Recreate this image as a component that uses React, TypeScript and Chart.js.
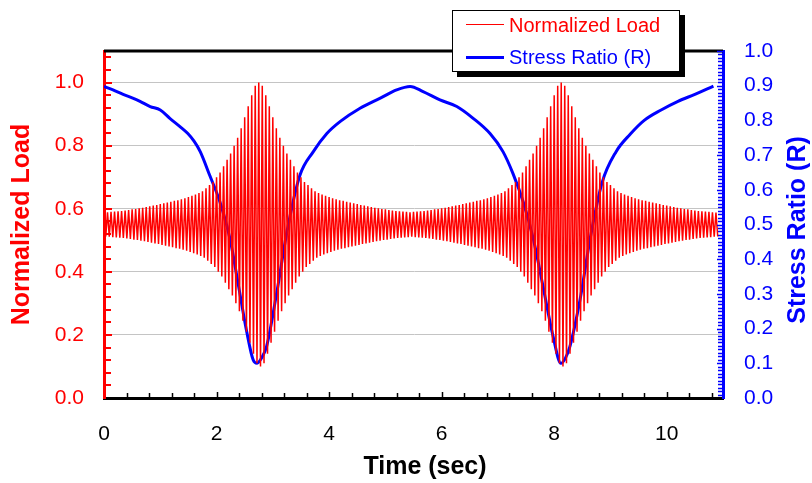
import React, { useEffect, useRef } from "react";
import { Chart, registerables } from "chart.js";

Chart.register(...registerables);

// ---- Data ----
// Stress ratio (R) curve, right axis
const stressTime = [0, 0.16, 0.34, 0.5, 0.64, 0.82, 1.0, 1.17, 1.35, 1.49, 1.6, 1.71, 1.88, 2.06, 2.24, 2.38, 2.54, 2.65, 2.72, 2.8, 2.89, 3.07, 3.25, 3.48, 3.72, 3.96, 4.2, 4.55, 4.91, 5.2, 5.44, 5.67, 5.97, 6.27, 6.56, 6.86, 7.09, 7.27, 7.45, 7.63, 7.8, 7.98, 8.12, 8.2, 8.28, 8.46, 8.64, 8.85, 9.1, 9.35, 9.6, 9.9, 10.2, 10.5, 10.83];
const stressRatio = [0.898, 0.888, 0.875, 0.865, 0.855, 0.84, 0.83, 0.806, 0.782, 0.762, 0.74, 0.71, 0.641, 0.565, 0.458, 0.333, 0.188, 0.11, 0.1, 0.115, 0.149, 0.304, 0.478, 0.641, 0.71, 0.762, 0.797, 0.835, 0.864, 0.888, 0.898, 0.883, 0.859, 0.84, 0.806, 0.762, 0.71, 0.646, 0.565, 0.458, 0.323, 0.178, 0.1, 0.115, 0.149, 0.284, 0.46, 0.62, 0.71, 0.76, 0.8, 0.83, 0.855, 0.875, 0.899];

// Normalized load: one peak and one valley per loading cycle (cycle period in seconds)
const loadCyclePeriod = 0.0625;
const loadPeaks = [
  0.588, 0.589, 0.59, 0.591, 0.592, 0.593, 0.594, 0.596, 0.598, 0.599, 0.601, 0.603, 0.605, 0.608, 0.61, 0.612, 0.615, 0.617, 0.62, 0.622, 0.625, 0.627, 0.63, 0.633, 0.637, 0.641, 0.645, 0.65, 0.655, 0.665, 0.675, 0.685, 0.7, 0.715, 0.735, 0.755, 0.775, 0.8, 0.825, 0.855, 0.89, 0.925, 0.96, 0.99, 1.0,
  0.99, 0.96, 0.925, 0.89, 0.855, 0.825, 0.8, 0.775, 0.755, 0.735, 0.715, 0.7, 0.685, 0.675, 0.665, 0.655, 0.65, 0.645, 0.641, 0.637, 0.633, 0.63, 0.627, 0.625, 0.622, 0.62, 0.617, 0.615, 0.612, 0.61, 0.608, 0.605, 0.603, 0.601, 0.599, 0.598, 0.596, 0.594, 0.593, 0.592, 0.591, 0.59, 0.589,
  0.59, 0.591, 0.592, 0.593, 0.594, 0.596, 0.598, 0.599, 0.601, 0.603, 0.605, 0.608, 0.61, 0.612, 0.615, 0.617, 0.62, 0.622, 0.625, 0.627, 0.63, 0.633, 0.637, 0.641, 0.645, 0.65, 0.655, 0.665, 0.675, 0.685, 0.7, 0.715, 0.735, 0.755, 0.775, 0.8, 0.825, 0.855, 0.89, 0.925, 0.96, 0.99,
  1.0,
  0.99, 0.96, 0.925, 0.89, 0.855, 0.825, 0.8, 0.775, 0.755, 0.735, 0.715, 0.7, 0.685, 0.675, 0.665, 0.655, 0.65, 0.645, 0.641, 0.637, 0.633, 0.63, 0.627, 0.625, 0.622, 0.62, 0.617, 0.615, 0.612, 0.61, 0.608, 0.605, 0.603, 0.601, 0.599, 0.598, 0.596, 0.594, 0.593, 0.592, 0.591, 0.59, 0.589, 0.588,
];
const loadValleys = [
  0.512, 0.511, 0.51, 0.509, 0.508, 0.507, 0.506, 0.504, 0.502, 0.501, 0.499, 0.497, 0.495, 0.492, 0.49, 0.488, 0.485, 0.483, 0.48, 0.478, 0.475, 0.473, 0.47, 0.467, 0.463, 0.459, 0.455, 0.45, 0.445, 0.435, 0.425, 0.415, 0.4, 0.385, 0.365, 0.345, 0.325, 0.3, 0.275, 0.245, 0.21, 0.175, 0.14, 0.11, 0.1,
  0.11, 0.14, 0.175, 0.21, 0.245, 0.275, 0.3, 0.325, 0.345, 0.365, 0.385, 0.4, 0.415, 0.425, 0.435, 0.445, 0.45, 0.455, 0.459, 0.463, 0.467, 0.47, 0.473, 0.475, 0.478, 0.48, 0.483, 0.485, 0.488, 0.49, 0.492, 0.495, 0.497, 0.499, 0.501, 0.502, 0.504, 0.506, 0.507, 0.508, 0.509, 0.51, 0.511,
  0.51, 0.509, 0.508, 0.507, 0.506, 0.504, 0.502, 0.501, 0.499, 0.497, 0.495, 0.492, 0.49, 0.488, 0.485, 0.483, 0.48, 0.478, 0.475, 0.473, 0.47, 0.467, 0.463, 0.459, 0.455, 0.45, 0.445, 0.435, 0.425, 0.415, 0.4, 0.385, 0.365, 0.345, 0.325, 0.3, 0.275, 0.245, 0.21, 0.175, 0.14, 0.11,
  0.1,
  0.11, 0.14, 0.175, 0.21, 0.245, 0.275, 0.3, 0.325, 0.345, 0.365, 0.385, 0.4, 0.415, 0.425, 0.435, 0.445, 0.45, 0.455, 0.459, 0.463, 0.467, 0.47, 0.473, 0.475, 0.478, 0.48, 0.483, 0.485, 0.488, 0.49, 0.492, 0.495, 0.497, 0.499, 0.501, 0.502, 0.504, 0.506, 0.507, 0.508, 0.509, 0.51, 0.511, 0.512,
];

// Tick labels
const timeTicks = [0, 2, 4, 6, 8, 10];
const loadTicks = [0, 0.2, 0.4, 0.6, 0.8, 1.0];
const ratioTicks = [0, 0.1, 0.2, 0.3, 0.4, 0.5, 0.6, 0.7, 0.8, 0.9, 1.0];

const RED = "#ff0000";
const BLUE = "#0000ff";
const FONT = "'Liberation Sans', Arial, sans-serif";

const framePlugin = {
  id: "frame",
  afterDraw(chart: any) {
    const { ctx, chartArea: a, scales } = chart;
    ctx.save();
    // top border
    ctx.strokeStyle = "#000";
    ctx.lineWidth = 3;
    ctx.beginPath();
    ctx.moveTo(a.left, a.top);
    ctx.lineTo(a.right, a.top);
    ctx.stroke();
    // x ticks (inward)
    ctx.lineWidth = 1.5;
    for (let i = 1; i <= 27; i++) {
      const px = Math.round(scales.x.getPixelForValue(i * 0.4)) + 0.5;
      const len = i % 5 === 0 ? 6 : 5;
      ctx.beginPath();
      ctx.moveTo(px, a.bottom);
      ctx.lineTo(px, a.bottom - len);
      ctx.stroke();
    }
    // left ticks (red)
    ctx.strokeStyle = RED;
    ctx.lineWidth = 2;
    for (let i = 1; i <= 27; i++) {
      const py = Math.round(scales.yL.getPixelForValue(i * 0.04));
      const len = i % 5 === 0 ? 8 : 7;
      ctx.beginPath();
      ctx.moveTo(a.left, py);
      ctx.lineTo(a.left + len, py);
      ctx.stroke();
    }
    // right ticks (blue)
    ctx.strokeStyle = BLUE;
    ctx.lineWidth = 1.5;
    for (let i = 1; i <= 100; i++) {
      const py = Math.round(scales.yR.getPixelForValue(i * 0.01)) + 0.5;
      const len = i % 10 === 0 ? 6 : 5;
      ctx.beginPath();
      ctx.moveTo(a.right, py);
      ctx.lineTo(a.right - len, py);
      ctx.stroke();
    }
    // axis titles drawn here (x title offset and right title reading upward as in the reference)
    ctx.font = `bold 25px ${FONT}`;
    ctx.textAlign = "center";
    ctx.textBaseline = "middle";
    ctx.fillStyle = "#000";
    ctx.fillText("Time (sec)", 425, 467);
    ctx.save();
    ctx.translate(798, 230);
    ctx.rotate(-Math.PI / 2);
    ctx.fillStyle = BLUE;
    ctx.fillText("Stress Ratio (R)", 0, 0);
    ctx.restore();
    ctx.restore();
  },
};

export default function App() {
  const ref = useRef<HTMLCanvasElement | null>(null);

  useEffect(() => {
    if (!ref.current) return;
    const loadData: { x: number; y: number }[] = [];
    for (let k = 0; k < loadPeaks.length; k++) {
      loadData.push({ x: k * loadCyclePeriod, y: loadPeaks[k] });
      loadData.push({ x: (k + 0.5) * loadCyclePeriod, y: loadValleys[k] });
    }
    const ratioData = stressTime.map((t, i) => ({ x: t, y: stressRatio[i] }));

    const chart = new Chart(ref.current, {
      type: "line",
      data: {
        datasets: [
          {
            label: "Normalized Load",
            data: loadData,
            yAxisID: "yL",
            borderColor: RED,
            borderWidth: 1.5,
            pointRadius: 0,
            tension: 0,
          },
          {
            label: "Stress Ratio (R)",
            data: ratioData,
            yAxisID: "yR",
            borderColor: BLUE,
            borderWidth: 3,
            pointRadius: 0,
            cubicInterpolationMode: "monotone",
          },
        ],
      },
      options: {
        responsive: false,
        animation: false,
        events: [],
        layout: { padding: { top: 51, left: 0, right: 0, bottom: 0 } },
        plugins: { legend: { display: false }, tooltip: { enabled: false } },
        scales: {
          x: {
            type: "linear",
            min: 0,
            max: 11,
            afterBuildTicks: (s: any) => {
              s.ticks = timeTicks.map((v) => ({ value: v }));
            },
            afterFit: (s: any) => {
              s.height = 85;
            },
            grid: { display: true, drawOnChartArea: false, drawTicks: false },
            border: { display: true, color: "#000", width: 3 },
            ticks: {
              color: "#000",
              padding: 24,
              font: { family: FONT, size: 21 },
              maxRotation: 0,
              callback: (v: any) => String(v),
            },
            title: { display: false },
          },
          yL: {
            type: "linear",
            position: "left",
            min: 0,
            max: 1.1,
            afterBuildTicks: (s: any) => {
              s.ticks = loadTicks.map((v) => ({ value: v }));
            },
            afterFit: (s: any) => {
              s.width = 104;
            },
            grid: { color: "#c4c4c4", lineWidth: 1, drawTicks: false },
            border: { display: true, color: RED, width: 3 },
            ticks: {
              color: RED,
              padding: 20,
              font: { family: FONT, size: 21 },
              callback: (v: any) => Number(v).toFixed(1),
            },
            title: {
              display: true,
              text: "Normalized Load",
              color: RED,
              font: { family: FONT, size: 25, weight: "bold" },
              padding: { top: 7, bottom: 0 },
            },
          },
          yR: {
            type: "linear",
            position: "right",
            min: 0,
            max: 1.0,
            afterBuildTicks: (s: any) => {
              s.ticks = ratioTicks.map((v) => ({ value: v }));
            },
            afterFit: (s: any) => {
              s.width = 89;
            },
            grid: { display: true, drawOnChartArea: false, drawTicks: false },
            border: { display: true, color: BLUE, width: 3 },
            ticks: {
              color: BLUE,
              padding: 21,
              font: { family: FONT, size: 21 },
              callback: (v: any) => Number(v).toFixed(1),
            },
            title: { display: false },
          },
        },
      },
      plugins: [framePlugin],
    } as any);
    return () => chart.destroy();
  }, []);

  return (
    <div style={{ position: "fixed", left: 0, top: 0, width: 812, height: 483, background: "#fff" }}>
      <canvas ref={ref} width={812} height={483} style={{ display: "block" }} />
      <div
        style={{
          position: "absolute",
          left: 452,
          top: 10,
          width: 226,
          height: 60,
          background: "#fff",
          border: "1.5px solid #000",
          boxShadow: "5px 5px 0 #000",
          fontFamily: FONT,
          fontSize: 20,
        }}
      >
        <div style={{ position: "absolute", left: 13, top: 13, width: 38, height: 1, background: RED }} />
        <div style={{ position: "absolute", left: 56, top: 2, lineHeight: "24px", color: RED, whiteSpace: "nowrap" }}>
          Normalized Load
        </div>
        <div style={{ position: "absolute", left: 13, top: 45, width: 38, height: 3, background: BLUE }} />
        <div style={{ position: "absolute", left: 56, top: 34, lineHeight: "24px", color: BLUE, whiteSpace: "nowrap" }}>
          Stress Ratio (R)
        </div>
      </div>
    </div>
  );
}
